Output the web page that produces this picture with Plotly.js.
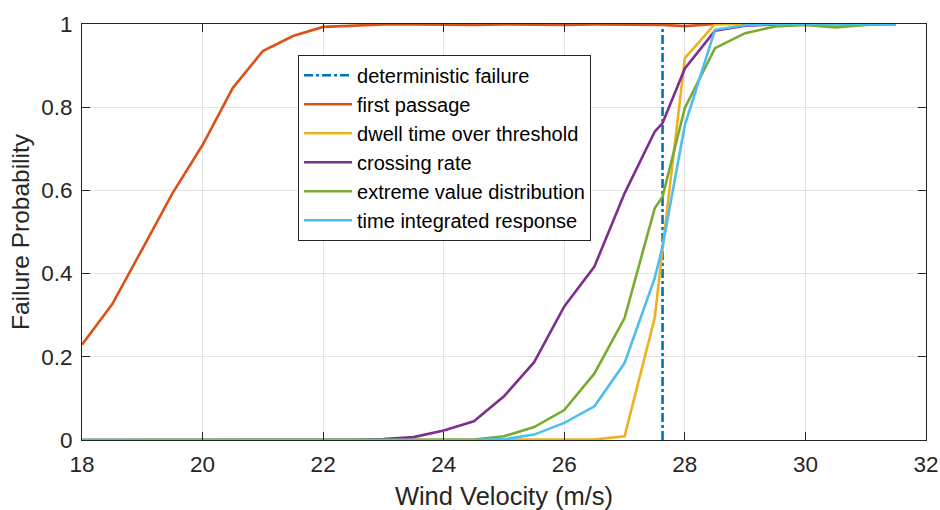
<!DOCTYPE html>
<html>
<head>
<meta charset="utf-8">
<script src="https://cdn.plot.ly/plotly-3.0.1.min.js"></script>
<style>html,body{margin:0;padding:0;background:#fff;}#chart{width:940px;height:510px;}</style>
</head>
<body>
<div id="chart"></div>
<script>
// Wind velocity samples (m/s)
var velocity = [18, 18.5, 19, 19.5, 20, 20.5, 21, 21.5, 22, 22.5, 23, 23.5, 24, 24.5, 25, 25.5, 26, 26.5, 27, 27.5, 27.63, 28, 28.5, 29, 29.5, 30, 30.5, 31, 31.5];

var deterministicVelocity = 27.63;
var deterministicY = [0, 1];

var firstPassage = [0.229, 0.326, 0.459, 0.593, 0.709, 0.846, 0.935, 0.971, 0.993, 0.996, 0.999, 0.999, 0.998, 0.998, 0.999, 0.998, 0.998, 0.999, 0.999, 0.999, 0.998, 0.995, 1.0, 1.0, 1.0, 1.0, 1.0, 1.0, 1.0];
var dwellTime    = [0, 0, 0, 0, 0, 0, 0, 0, 0, 0, 0, 0, 0, 0, 0, 0, 0, 0.001, 0.009, 0.293, 0.46, 0.918, 1.0, 1.0, 1.0, 1.0, 1.0, 1.0, 1.0];
var crossingRate = [0, 0, 0, 0, 0, 0, 0, 0, 0, 0, 0.002, 0.007, 0.023, 0.045, 0.105, 0.187, 0.321, 0.417, 0.593, 0.741, 0.762, 0.893, 0.984, 0.996, 0.999, 1.0, 1.0, 1.0, 1.0];
var extremeValue = [0, 0, 0, 0, 0, 0, 0, 0, 0, 0, 0, 0, 0, 0.001, 0.009, 0.031, 0.072, 0.16, 0.293, 0.557, 0.585, 0.798, 0.942, 0.978, 0.994, 0.998, 0.992, 0.998, 1.0];
var timeIntegrated = [0, 0, 0, 0, 0, 0, 0, 0, 0, 0, 0, 0, 0, 0, 0.002, 0.013, 0.041, 0.081, 0.185, 0.389, 0.465, 0.757, 0.986, 0.997, 1.0, 1.0, 1.0, 1.0, 1.0];

var seriesNames = ["deterministic failure", "first passage", "dwell time over threshold", "crossing rate", "extreme value distribution", "time integrated response"];
var seriesColors = ["#0072BD", "#D95319", "#EDB120", "#7E2F8E", "#77AC30", "#4DBEEE"];

var xTicks = [18, 20, 22, 24, 26, 28, 30, 32];
var yTicks = [0, 0.2, 0.4, 0.6, 0.8, 1];
var yTickText = ["0", "0.2", "0.4", "0.6", "0.8", "1"];

var ys = [firstPassage, dwellTime, crossingRate, extremeValue, timeIntegrated];

var traces = [{
  x: [deterministicVelocity, deterministicVelocity],
  y: deterministicY,
  mode: "lines",
  name: seriesNames[0],
  line: {color: seriesColors[0], width: 2.6, dash: "9px,3px,3px,3px"}
}];
for (var i = 0; i < ys.length; i++) {
  traces.push({
    x: velocity,
    y: ys[i],
    mode: "lines",
    name: seriesNames[i + 1],
    line: {color: seriesColors[i + 1], width: 2.6}
  });
}

var axisColor = "#262626";
var fontFam = "Liberation Sans, Arial, Helvetica, sans-serif";

var layout = {
  width: 940,
  height: 510,
  margin: {l: 82, r: 14, t: 24, b: 70, pad: 0},
  paper_bgcolor: "#ffffff",
  plot_bgcolor: "#ffffff",
  font: {family: fontFam, color: axisColor, size: 23},
  showlegend: true,
  legend: {
    x: 0.256, y: 0.926, xanchor: "left", yanchor: "top",
    bgcolor: "#ffffff", bordercolor: axisColor, borderwidth: 1,
    font: {family: fontFam, size: 20, color: "#000000"},
    itemwidth: 48,
    tracegroupgap: 0
  },
  xaxis: {
    range: [18, 32],
    tickvals: xTicks,
    ticktext: xTicks.map(String),
    ticks: "inside", ticklen: 8, tickwidth: 1, tickcolor: axisColor,
    ticklabelstandoff: 4,
    showline: true, linecolor: axisColor, linewidth: 1, mirror: "ticks",
    showgrid: true, gridcolor: "#E3E3E3", gridwidth: 1,
    zeroline: false,
    tickfont: {family: fontFam, size: 22.5, color: axisColor},
    title: {text: "Wind Velocity (m/s)", font: {family: fontFam, size: 25.5, color: axisColor}, standoff: 12}
  },
  yaxis: {
    range: [0, 1],
    tickvals: yTicks,
    ticktext: yTickText,
    ticks: "inside", ticklen: 8, tickwidth: 1, tickcolor: axisColor,
    ticklabelstandoff: 4,
    showline: true, linecolor: axisColor, linewidth: 1, mirror: "ticks",
    showgrid: true, gridcolor: "#E3E3E3", gridwidth: 1,
    zeroline: false,
    tickfont: {family: fontFam, size: 22.5, color: axisColor},
    title: {text: "Failure Probability", font: {family: fontFam, size: 24.5, color: axisColor}, standoff: 4}
  }
};

Plotly.newPlot("chart", traces, layout, {displayModeBar: false, staticPlot: true});
</script>
</body>
</html>
